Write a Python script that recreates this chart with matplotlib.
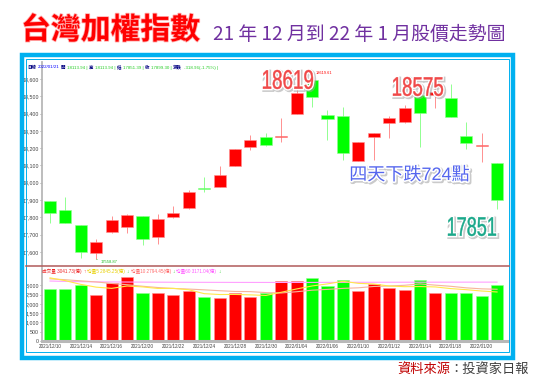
import numpy as np
import matplotlib
matplotlib.use('Agg')
import matplotlib.pyplot as plt
import matplotlib.patheffects as pe
from matplotlib import font_manager
from matplotlib.patches import Rectangle, PathPatch
from matplotlib.lines import Line2D
from matplotlib.textpath import TextPath
from matplotlib.transforms import Affine2D

# fonts
names = {f.name for f in font_manager.fontManager.ttflist}
narrow = 'Liberation Sans Narrow' if 'Liberation Sans Narrow' in names else 'Liberation Sans'
cjk = ['Noto Sans CJK TC', 'DejaVu Sans']
mixed = ['Liberation Sans', 'Noto Sans CJK TC', 'DejaVu Sans']
plt.rcParams['font.family'] = cjk
plt.rcParams['axes.unicode_minus'] = False

# data: daily candles, 2021/12/10 .. 2022/01/21
dates = ['2021/12/10', '2021/12/13', '2021/12/14', '2021/12/15', '2021/12/16',
         '2021/12/17', '2021/12/20', '2021/12/21', '2021/12/22', '2021/12/23',
         '2021/12/24', '2021/12/27', '2021/12/28', '2021/12/29', '2021/12/30',
         '2022/01/03', '2022/01/04', '2022/01/05', '2022/01/06', '2022/01/07',
         '2022/01/10', '2022/01/11', '2022/01/12', '2022/01/13', '2022/01/14',
         '2022/01/17', '2022/01/18', '2022/01/19', '2022/01/20', '2022/01/21']
opens = [17895, 17843, 17756, 17594, 17716, 17745, 17808, 17687, 17802, 17854,
         17966, 17976, 18097, 18207, 18265, 18263, 18398, 18594, 18392, 18386,
         18126, 18265, 18346, 18351, 18507, 18505, 18490, 18270, 18211, 18114]
highs = [17897, 17918, 17758, 17675, 17808, 17820, 17810, 17820, 17866, 17958,
         18033, 18097, 18197, 18276, 18288, 18375, 18560, 18619, 18421, 18438,
         18238, 18290, 18386, 18448, 18575, 18560, 18571, 18351, 18288, 18114]
lows = [17768, 17766, 17565, 17559, 17710, 17710, 17640, 17646, 17797, 17850,
        17947, 17974, 18095, 18190, 18215, 18236, 18396, 18438, 18247, 18132,
        18124, 18132, 18259, 18346, 18207, 18430, 18378, 18195, 18120, 17851]
closes = [17825, 17768, 17600, 17658, 17785, 17814, 17675, 17791, 17825, 17947,
          17962, 18045, 18195, 18247, 18218, 18268, 18519, 18496, 18369, 18172,
          18236, 18288, 18375, 18432, 18403, 18525, 18380, 18230, 18215, 17899]

# volume (億) and moving averages
volume = [2810, 2810, 2990, 2470, 3100, 3440, 2570, 2570, 2500, 2720,
          2390, 2340, 2590, 2380, 2570, 3240, 3240, 3390, 2940, 3260,
          2700, 3060, 2850, 2760, 3300, 2590, 2610, 2560, 2400, 3040]
vol_up = [0, 0, 0, 1, 1, 1, 0, 1, 1, 1, 0, 1, 1, 1, 0,
          1, 1, 0, 0, 0, 1, 1, 1, 1, 0, 1, 0, 0, 0, 0]
ma5 = [3400, 3250, 3050, 2900, 2836, 2962, 2914, 2830, 2836, 2760,
       2550, 2504, 2508, 2484, 2454, 2624, 2804, 2964, 3076, 3214,
       3106, 3070, 2962, 2926, 2934, 2912, 2822, 2764, 2692, 2640]
ma10 = [3350, 3300, 3240, 3180, 3100, 3030, 2950, 2880, 2830, 2798,
        2756, 2709, 2669, 2660, 2607, 2587, 2654, 2736, 2780, 2834,
        2865, 2937, 2963, 3001, 3074, 3009, 2946, 2863, 2809, 2787]
ma60 = [3230, 3210, 3195, 3185, 3180, 3176, 3172, 3168, 3165, 3162,
        3160, 3158, 3156, 3155, 3154, 3154, 3155, 3156, 3158, 3160,
        3162, 3163, 3165, 3166, 3167, 3168, 3169, 3170, 3171, 3171]

price_ticks = [17600, 17700, 17800, 17900, 18000, 18100, 18200, 18300, 18400, 18500, 18600]
vol_ticks = [0, 500, 1000, 1500, 2000, 2500, 3000]

RED = '#ff0000'
GREEN = '#00ff00'
W, H = 536, 380

fig = plt.figure(figsize=(W / 100, H / 100), dpi=100)
rend = fig.canvas.get_renderer()

def fx(px):
    return px / W

def fy(py):
    return 1 - py / H

def text_row(x0, y0, parts, size):
    # lay small header texts one after another
    xp = x0
    for t, cc, wt in parts:
        tt = fig.text(fx(xp), fy(y0), t, fontsize=size, color=cc, va='center',
                      family=mixed, fontweight=wt)
        bb = tt.get_window_extent(renderer=rend)
        xp = bb.x1 + 1.6

shadow = [pe.Stroke(linewidth=2.8, foreground='#a0a0a0', offset=(0.9, -0.9), alpha=0.55),
          pe.Stroke(linewidth=2.3, foreground='white'), pe.Normal()]

def squeezed(cx, cy, s, color, wpx, hpx):
    # condensed big number label drawn as a path
    tp = TextPath((0, 0), s, size=1, prop=font_manager.FontProperties(family='Liberation Sans'))
    bb = tp.get_extents()
    tr = (Affine2D().translate(-(bb.x0 + bb.width / 2), -(bb.y0 + bb.height / 2))
          .scale(wpx / bb.width / W, hpx / bb.height / H)
          .translate(fx(cx), fy(cy)) + fig.transFigure)
    p = PathPatch(tp, transform=tr, facecolor=color, edgecolor=color, lw=0.3,
                  path_effects=shadow, zorder=6)
    fig.patches.append(p)

# title
fig.text(fx(21), fy(39), '台灣加權指數', fontsize=21.5, fontweight='bold', color=RED,
         family=cjk, va='baseline',
         path_effects=[pe.withStroke(linewidth=1.2, foreground='#ffb0b0')])
fig.text(fx(213), fy(39.5), '21 年 12 月到 22 年 1 月股價走勢圖', fontsize=13.6,
         color='#7030a0', family=cjk, va='baseline')

# blue frame
fig.patches.append(Rectangle((fx(22), fy(357.5)), fx(513) - fx(22), fy(55) - fy(357.5),
                             transform=fig.transFigure, fill=False,
                             edgecolor='#00b0f0', lw=3.2))
fig.patches.append(Rectangle((fx(26), fy(352)), fx(508.5) - fx(26), fy(59) - fy(352),
                             transform=fig.transFigure, fill=False,
                             edgecolor='#00b0f0', lw=0.7))

x = np.arange(len(dates))
xlim = (-0.52, 29.71)

# price panel
ax = fig.add_axes([fx(42), fy(266), fx(508) - fx(42), fy(62) - fy(266)])
ax.set_xlim(*xlim)
ax.set_ylim(17519, 18698)
o = np.array(opens); c = np.array(closes)
up = c >= o
col = np.where(up, RED, GREEN)
wick = np.where(up, '#ff9090', '#90ff90')
ax.vlines(x, lows, highs, colors=wick, lw=0.7, zorder=2)
body_lo = np.minimum(o, c)
body_h = np.maximum(np.abs(c - o), 5)
ax.bar(x, body_h, bottom=body_lo, width=0.78, color=col, edgecolor=wick, lw=0.4, zorder=3)
for s in ['top', 'right']:
    ax.spines[s].set_visible(False)
ax.spines['left'].set_color('#b8b8b8')
ax.spines['left'].set_linewidth(1.3)
ax.spines['bottom'].set_visible(False)
ax.set_xticks([])
ax.set_yticks(price_ticks)
ax.set_yticklabels([f'{v:,}' for v in price_ticks], family=narrow, fontsize=3.8, color='#404040')
ax.tick_params(axis='y', length=1.5, width=0.4, color='#606060', pad=0.6)

# header of price panel
text_row(27, 67.5, [('日線', '#000080', 'bold'), ('2022/01/21', '#0000ff', 'normal'),
                    ('開', '#000080', 'bold'), ('18113.94 |', '#22cc22', 'normal'),
                    ('高', '#000080', 'bold'), ('18113.94 |', '#22cc22', 'normal'),
                    ('低', '#000080', 'bold'), ('17851.39 |', '#22cc22', 'normal'),
                    ('收', '#000080', 'bold'), ('17899.30 |', '#22cc22', 'normal'),
                    ('漲跌', '#000080', 'bold'), ('-318.96(-1.75%) |', '#22cc22', 'normal')], 3.2)

# big annotations
squeezed(288, 79.5, '18619', '#f04848', 50, 19)
squeezed(418, 86.5, '18575', '#f04848', 50, 19)
squeezed(472, 226.5, '17851', '#1aa88a', 48, 19)
ax.text(23.3, 18042, '四天下跌724點', fontsize=13, color='#5566ee', family=mixed,
        ha='center', va='center', path_effects=shadow, zorder=6)

# small high / low markers
ax.annotate('18619.61', xy=(17, 18619), xytext=(2.4, 2.0), textcoords='offset points',
            fontsize=2.8, color=RED, family=narrow, va='center',
            arrowprops=dict(arrowstyle='-', color=RED, lw=0.3, shrinkA=0, shrinkB=0))
ax.annotate('17558.87', xy=(3, 17559), xytext=(3.0, -1.8), textcoords='offset points',
            fontsize=3.0, color='#22bb22', family=narrow, va='center',
            arrowprops=dict(arrowstyle='-', color='#22bb22', lw=0.3, shrinkA=0, shrinkB=0))

# separator between panels
fig.lines.append(Line2D([fx(26), fx(508.5)], [fy(266), fy(266)], transform=fig.transFigure,
                        color='#b05a5a', lw=1.1))

# volume panel
axv = fig.add_axes([fx(42), fy(341), fx(508) - fx(42), fy(268) - fy(341)])
axv.set_xlim(*xlim)
axv.set_ylim(0, 3932)
vcol = [RED if u else GREEN for u in vol_up]
vedge = ['#ff9090' if u else '#90ff90' for u in vol_up]
axv.bar(x, volume, width=0.78, color=vcol, edgecolor=vedge, lw=0.4, zorder=2)
axv.plot(x, ma60, color='#ffa0ff', lw=0.8, zorder=3)
axv.plot(x, ma10, color='#f7b49c', lw=0.8, zorder=3)
axv.plot(x, ma5, color='#ffe84a', lw=0.8, zorder=3)
for s in ['top', 'right']:
    axv.spines[s].set_visible(False)
axv.spines['left'].set_color('#b8b8b8')
axv.spines['left'].set_linewidth(1.3)
axv.spines['bottom'].set_color('#b8b8b8')
axv.spines['bottom'].set_linewidth(2.2)
axv.set_yticks(vol_ticks)
axv.set_yticklabels([f'{v:,}' for v in vol_ticks], family=narrow, fontsize=3.8, color='#404040')
axv.tick_params(axis='y', length=1.5, width=0.4, color='#606060', pad=0.6)
axv.set_xticks(x[::2])
axv.set_xticklabels(dates[::2], family=narrow, fontsize=3.3, color='#404040')
axv.tick_params(axis='x', length=2.5, width=0.4, color='#808080', pad=1.2, direction='inout')

# header of volume panel
text_row(42, 271.5, [('成交量 3041.73(億)', '#ee2222', 'normal'), ('↑', '#ee2222', 'normal'),
                     ('均量5 2845.25(億)', '#e8d000', 'normal'), ('↓', '#22cc22', 'normal'),
                     ('均量10 2794.45(億)', '#ff6666', 'normal'), ('↓', '#22cc22', 'normal'),
                     ('均量60 3171.04(億)', '#ff55ff', 'normal'), ('↓', '#22cc22', 'normal')], 3.3)

# source
fig.text(fx(397), fy(369), '資料來源', fontsize=9.5, color='#c00000', va='center', family=cjk)
fig.text(fx(449), fy(369), '：投資家日報', fontsize=9.5, color='#404040', va='center', family=cjk)

fig.savefig('out.png', dpi=100)
